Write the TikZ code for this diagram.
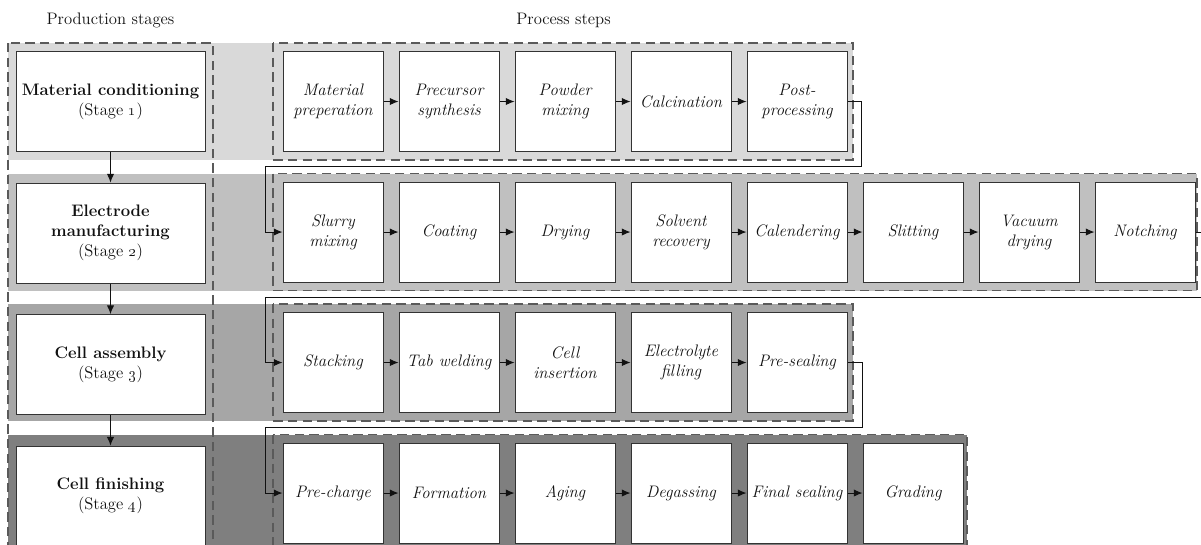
\documentclass[tikz,border=0pt]{standalone}
\usepackage{tikz}
\usetikzlibrary{positioning,arrows.meta,calc}
\definecolor{ink}{HTML}{111111}
\definecolor{edge}{HTML}{333333}
\definecolor{dashc}{HTML}{5A5A5A}
\definecolor{band1}{HTML}{D9D9D9}
\definecolor{band2}{HTML}{C0C0C0}
\definecolor{band3}{HTML}{A6A6A6}
\definecolor{band4}{HTML}{7F7F7F}

\begin{document}
\begin{tikzpicture}[
  x=0.75pt,y=-0.75pt,
  font=\fontsize{12.5}{15}\selectfont,
  text=ink,
  node distance=11.25pt,
  stagebox/.style={draw=edge,line width=0.75pt,fill=white,
    minimum width=141.75pt,minimum height=75pt,align=center,inner sep=2pt},
  stepbox/.style={draw=edge,line width=0.75pt,fill=white,
    minimum width=75pt,minimum height=75pt,align=center,inner sep=2pt,font=\fontsize{12.5}{15}\selectfont\itshape},
  group/.style={draw=dashc,line width=0.8pt,dash pattern=on 7pt off 4pt},
  flow/.style={-{Latex[length=6.5pt,width=5.5pt]},draw=ink,line width=0.75pt}
]
\useasboundingbox (0,0) rectangle (1201,544);

% row bands
\fill[band1] (8,43) rectangle (853,160);
\fill[band2] (8,173.5) rectangle (1197,290.5);
\fill[band3] (8,304) rectangle (853,421);
\fill[band4] (8,434.5) rectangle (967,560);

% dashed groups
\draw[group] (8,43) rectangle (213,570);
\draw[group] (273,43) rectangle (853,160);
\draw[group] (273,173.5) rectangle (1197,290.5);
\draw[group] (273,304) rectangle (853,421);
\draw[group] (273,434.5) rectangle (967,570);

% headings
\node (hstage) at (110.5,20) {Production stages};
\node (hstep) at (563.5,20) {Process steps};

% production stages
\node[stagebox] (s1) at (110.5,101.5) {\textbf{Material conditioning}\\(Stage \oldstylenums{1})};
\node[stagebox,below=22.9pt of s1] (s2) {\textbf{Electrode}\\\textbf{manufacturing}\\(Stage \oldstylenums{2})};
\node[stagebox,below=22.9pt of s2] (s3) {\textbf{Cell assembly}\\(Stage \oldstylenums{3})};
\node[stagebox,below=22.9pt of s3] (s4) {\textbf{Cell finishing}\\(Stage \oldstylenums{4})};

% stage 1 steps
\node[stepbox] (m1) at (333,101.5) {Material\\preperation};
\node[stepbox,right=of m1] (m2) {Precursor\\synthesis};
\node[stepbox,right=of m2] (m3) {Powder\\mixing};
\node[stepbox,right=of m3] (m4) {Calcination};
\node[stepbox,right=of m4] (m5) {Post-\\processing};

% stage 2 steps
\node[stepbox] (e1) at (333,232) {Slurry\\mixing};
\node[stepbox,right=of e1] (e2) {Coating};
\node[stepbox,right=of e2] (e3) {Drying};
\node[stepbox,right=of e3] (e4) {Solvent\\recovery};
\node[stepbox,right=of e4] (e5) {Calendering};
\node[stepbox,right=of e5] (e6) {Slitting};
\node[stepbox,right=of e6] (e7) {Vacuum\\drying};
\node[stepbox,right=of e7] (e8) {Notching};

% stage 3 steps
\node[stepbox] (a1) at (333,362.5) {Stacking};
\node[stepbox,right=of a1] (a2) {Tab welding};
\node[stepbox,right=of a2] (a3) {Cell\\insertion};
\node[stepbox,right=of a3] (a4) {Electrolyte\\filling};
\node[stepbox,right=of a4] (a5) {Pre-sealing};

% stage 4 steps
\node[stepbox] (f1) at (333,493) {Pre-charge};
\node[stepbox,right=of f1] (f2) {Formation};
\node[stepbox,right=of f2] (f3) {Aging};
\node[stepbox,right=of f3] (f4) {Degassing};
\node[stepbox,right=of f4] (f5) {Final sealing};
\node[stepbox,right=of f5] (f6) {Grading};

% turn points between rows
\coordinate (r1) at (861,166.75);
\coordinate (l1) at (265,166.75);
\coordinate (r2) at (1206,297.25);
\coordinate (l2) at (265,297.25);
\coordinate (r3) at (862,427.75);
\coordinate (l3) at (265,427.75);

% stage flow
\draw[flow] (s1.south) -- (s2.north);
\draw[flow] (s2.south) -- (s3.north);
\draw[flow] (s3.south) -- (s4.north);

% step flow
\draw[flow] (m1.east) -- (m2.west);
\draw[flow] (m2.east) -- (m3.west);
\draw[flow] (m3.east) -- (m4.west);
\draw[flow] (m4.east) -- (m5.west);
\draw[flow] (m5.east) -| (r1) -- (l1) |- (e1.west);
\draw[flow] (e1.east) -- (e2.west);
\draw[flow] (e2.east) -- (e3.west);
\draw[flow] (e3.east) -- (e4.west);
\draw[flow] (e4.east) -- (e5.west);
\draw[flow] (e5.east) -- (e6.west);
\draw[flow] (e6.east) -- (e7.west);
\draw[flow] (e7.east) -- (e8.west);
\draw[flow] (e8.east) -| (r2) -- (l2) |- (a1.west);
\draw[flow] (a1.east) -- (a2.west);
\draw[flow] (a2.east) -- (a3.west);
\draw[flow] (a3.east) -- (a4.west);
\draw[flow] (a4.east) -- (a5.west);
\draw[flow] (a5.east) -| (r3) -- (l3) |- (f1.west);
\draw[flow] (f1.east) -- (f2.west);
\draw[flow] (f2.east) -- (f3.west);
\draw[flow] (f3.east) -- (f4.west);
\draw[flow] (f4.east) -- (f5.west);
\draw[flow] (f5.east) -- (f6.west);
\end{tikzpicture}
\end{document}
